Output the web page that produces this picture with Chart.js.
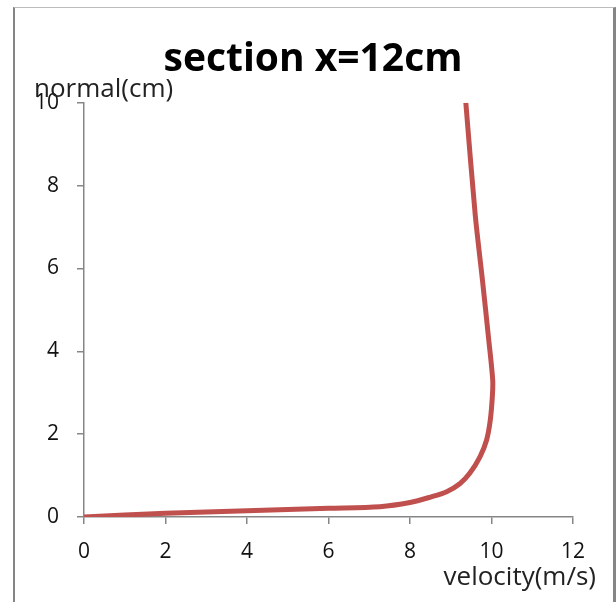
<!DOCTYPE html>
<html lang="en">

<head>
    <meta charset="UTF-8">
    <script src="https://cdn.jsdelivr.net/npm/chart.js"></script>
    <title>section x=12cm</title>
</head>

<body>
    <div class="frame">
        <canvas id="myChart" width="616" height="602"></canvas>
    </div>
    <style>
        body {
            background-color: #fff;
            margin: 0;
            overflow: hidden;
        }

        .frame {
            position: relative;
            width: 616px;
            height: 602px;
        }

        .frame::before {
            content: "";
            position: absolute;
            left: 13px;
            top: 7px;
            width: 598px;
            height: 620px;
            border-left: 2px solid #858585;
            border-right: 3px solid #858585;
            border-top: 1px solid #bdbdbd;
            pointer-events: none;
        }

        canvas {
            position: absolute;
            left: 0;
            top: 0;
        }
    </style>
    <script>
        const velocity = [0, 2, 4, 6, 7.26, 8, 8.5, 8.9, 9.23, 9.47, 9.72, 9.88, 9.97, 10.02, 10.03, 9.93, 9.78, 9.6, 9.37];
        const normal = [0, 0.09, 0.15, 0.21, 0.25, 0.35, 0.48, 0.61, 0.81, 1.06, 1.46, 1.86, 2.34, 2.9, 3.3, 4.3, 5.7, 7.3, 10];
        const xTicks = [0, 2, 4, 6, 8, 10, 12];
        const yTicks = [0, 2, 4, 6, 8, 10];

        const font = "'Open Sans', sans-serif";
        const axisGrey = "#868686";

        // horizontal axis captions: y caption over the top-left, x caption under the right end
        const axisCaptions = {
            id: "axisCaptions",
            afterDraw(chart) {
                const { ctx, chartArea } = chart;
                ctx.save();
                ctx.fillStyle = "#222";
                ctx.font = `26px ${font}`;
                ctx.textBaseline = "alphabetic";
                ctx.textAlign = "left";
                ctx.fillText("normal(cm)", chartArea.left - 50, chartArea.top - 6);
                ctx.textAlign = "right";
                ctx.fillText("velocity(m/s)", chartArea.right + 23, chartArea.bottom + 68);
                ctx.restore();
            }
        };

        Chart.defaults.font.family = font;
        Chart.defaults.color = "#111";

        const axisLines = { drawOnChartArea: false, drawTicks: true, tickLength: 7, color: axisGrey, lineWidth: 1.5 };

        new Chart(document.getElementById("myChart"), {
            type: "scatter",
            data: {
                datasets: [{
                    data: velocity.map((v, i) => ({ x: v, y: normal[i] })),
                    showLine: true,
                    borderColor: "#C0504D",
                    borderWidth: 5,
                    pointRadius: 0,
                    tension: 0.3,
                    borderCapStyle: "butt"
                }]
            },
            options: {
                responsive: false,
                animation: false,
                layout: { padding: { top: 0, right: 0, bottom: 0, left: 10 } },
                plugins: {
                    legend: { display: false },
                    tooltip: { enabled: false },
                    title: {
                        display: true,
                        text: "section x=12cm",
                        color: "#000",
                        font: { size: 39, weight: "bold", family: font },
                        padding: { top: 36, bottom: 20 }
                    }
                },
                scales: {
                    x: {
                        type: "linear",
                        min: 0,
                        max: 12,
                        afterBuildTicks: (scale) => { scale.ticks = xTicks.map(v => ({ value: v })); },
                        afterFit: (scale) => { scale.height = 85; },
                        ticks: { font: { size: 21 }, padding: 15, maxRotation: 0 },
                        grid: axisLines,
                        border: { color: axisGrey, width: 1.5 }
                    },
                    y: {
                        type: "linear",
                        min: 0,
                        max: 10,
                        afterBuildTicks: (scale) => { scale.ticks = yTicks.map(v => ({ value: v })); },
                        afterFit: (scale) => { scale.width = 74; },
                        ticks: { font: { size: 21 }, padding: 18 },
                        grid: axisLines,
                        border: { color: axisGrey, width: 1.5 }
                    },
                    // empty right-hand strip, keeps room for the "12" label and the x caption
                    yRight: {
                        type: "linear",
                        position: "right",
                        min: 0,
                        max: 10,
                        afterFit: (scale) => { scale.width = 43; },
                        ticks: { display: false },
                        grid: { display: false },
                        border: { display: false }
                    }
                }
            },
            plugins: [axisCaptions]
        });
    </script>
</body>

</html>
